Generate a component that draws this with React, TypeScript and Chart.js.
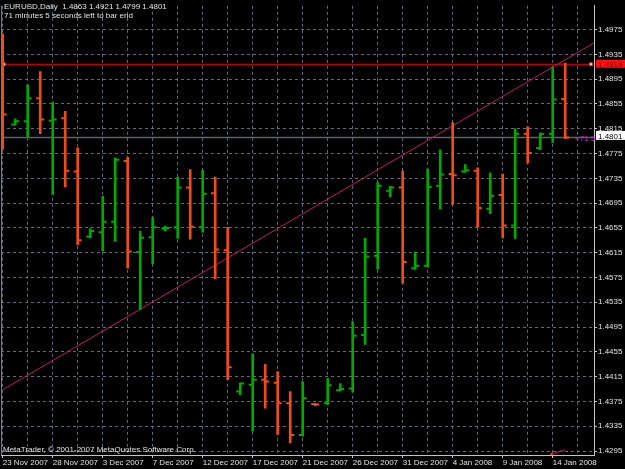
import React, { useEffect, useRef } from 'react';
import { Chart, registerables } from 'chart.js';

Chart.register(...registerables);

// ---------- data ----------
const symbol = 'EURUSD,Daily';
const countdownText = '71 minutes 5 seconds left to bar end';
const copyrightText = 'MetaTrader, \u00A9 2001-2007 MetaQuotes Software Corp.';
const timerText = '<71:5';

const opens = [
  1.4900, 1.4822, 1.4827, 1.4864, 1.4828, 1.4832, 1.4746, 1.4641, 1.4648, 1.4665,
  1.4763, 1.4616, 1.4640, 1.4654, 1.4656, 1.4720, 1.4656, 1.4711, 1.4619, 1.4391,
  1.4402, 1.4410, 1.4405, 1.4372, 1.4321, 1.4371, 1.4372, 1.4393, 1.4396, 1.4482,
  1.4610, 1.4715, 1.4720, 1.4590, 1.4594, 1.4723, 1.4742, 1.4746, 1.4747, 1.4686,
  1.4708, 1.4659, 1.4807, 1.4784, 1.4807, 1.4863,
];
const highs = [
  1.4968, 1.4831, 1.4886, 1.4907, 1.4858, 1.4843, 1.4784, 1.4654, 1.4706, 1.4768,
  1.4769, 1.4650, 1.4672, 1.4658, 1.4737, 1.4749, 1.4748, 1.4737, 1.4656, 1.4405,
  1.4452, 1.4435, 1.4423, 1.4391, 1.4407, 1.4372, 1.4412, 1.4404, 1.4504, 1.4638,
  1.4728, 1.4722, 1.4747, 1.4616, 1.4750, 1.4781, 1.4825, 1.4757, 1.4752, 1.4744,
  1.4742, 1.4815, 1.4818, 1.4808, 1.4914, 1.4921,
];
const lows = [
  1.4782, 1.4821, 1.4802, 1.4807, 1.4709, 1.4721, 1.4628, 1.4639, 1.4618, 1.4633,
  1.4590, 1.4523, 1.4597, 1.4650, 1.4638, 1.4637, 1.4648, 1.4573, 1.4410, 1.4386,
  1.4327, 1.4364, 1.4322, 1.4308, 1.4319, 1.4368, 1.4370, 1.4392, 1.4390, 1.4467,
  1.4589, 1.4705, 1.4566, 1.4588, 1.4592, 1.4685, 1.4693, 1.4745, 1.4656, 1.4678,
  1.4639, 1.4638, 1.4760, 1.4781, 1.4793, 1.4799,
];
const closes = [
  1.4838, 1.4827, 1.4864, 1.4830, 1.4830, 1.4747, 1.4635, 1.4650, 1.4665, 1.4765,
  1.4617, 1.4639, 1.4656, 1.4655, 1.4720, 1.4657, 1.4710, 1.4620, 1.4430, 1.4404,
  1.4410, 1.4407, 1.4372, 1.4321, 1.4380, 1.4370, 1.4401, 1.4395, 1.4481, 1.4609,
  1.4723, 1.4720, 1.4600, 1.4594, 1.4721, 1.4741, 1.4740, 1.4748, 1.4687, 1.4707,
  1.4659, 1.4807, 1.4776, 1.4807, 1.4862, 1.4801,
];

// date labels, one every 4 bars starting at bar 0
const dateLabels = [
  '23 Nov 2007', '28 Nov 2007', '3 Dec 2007', '7 Dec 2007', '12 Dec 2007', '17 Dec 2007',
  '21 Dec 2007', '26 Dec 2007', '31 Dec 2007', '4 Jan 2008', '9 Jan 2008', '14 Jan 2008',
];
const barsPerLabel = 4;
const barsPerGrid = 2;

const priceTicks = [
  1.4295, 1.4335, 1.4375, 1.4415, 1.4455, 1.4495, 1.4535, 1.4575, 1.4615,
  1.4655, 1.4695, 1.4735, 1.4775, 1.4815, 1.4855, 1.4895, 1.4935, 1.4975,
];

const hLineLevel = 1.4919;
const hLineBars = [0.1, 47.06];
const bidLevel = 1.4801;
const trendBars = [0, 47.3];
const trendPrices = [1.43937, 1.49535];
const markBars = [43.9, 45.0];
const markPrices = [1.4290, 1.4297];

// view window
const X_MIN = -0.136;
const X_MAX = 47.304;
const Y_MIN = 1.42886;
const Y_MAX = 1.50133;

// ---------- styles ----------
const UP = '#00a800';
const DOWN = '#f04c18';
const GRID = '#5d6b7a';
const AXIS = '#c4c4c4';
const TEXT = '#e2e2e2';
const FONT = '"Liberation Sans", Arial, sans-serif';

const mtPlugin = {
  id: 'mtDecor',
  beforeDraw(chart: any) {
    const { ctx } = chart;
    ctx.save();
    ctx.fillStyle = '#000000';
    ctx.fillRect(0, 0, chart.width, chart.height);
    ctx.restore();
  },
  beforeDatasetsDraw(chart: any) {
    const { ctx, chartArea } = chart;
    ctx.save();
    ctx.strokeStyle = '#7a7a7a';
    ctx.lineWidth = 1;
    ctx.beginPath();
    ctx.moveTo(chartArea.left + 0.5, chartArea.top);
    ctx.lineTo(chartArea.left + 0.5, chartArea.bottom);
    ctx.stroke();
    ctx.restore();
  },
  afterDraw(chart: any) {
    const { ctx, chartArea } = chart;
    const y = chart.scales.y;
    const n = opens.length - 1;
    ctx.save();
    ctx.font = `8px ${FONT}`;
    ctx.textAlign = 'left';
    ctx.textBaseline = 'alphabetic';
    ctx.fillStyle = TEXT;
    ctx.fillText(
      `${symbol}  ${opens[n].toFixed(4)} ${highs[n].toFixed(4)} ${lows[n].toFixed(4)} ${closes[n].toFixed(4)}`,
      4, 9,
    );
    ctx.fillText(countdownText, 4, 18);
    ctx.fillText(copyrightText, 3, chartArea.bottom - 3.5);

    const bidY = y.getPixelForValue(bidLevel);
    ctx.fillStyle = '#c21cd6';
    ctx.fillText(timerText, chartArea.right - 19, bidY + 3.5);
    ctx.fillStyle = '#ffffff';
    ctx.fillRect(chartArea.right + 2, bidY - 6.5, 29, 9);
    ctx.fillStyle = '#000000';
    ctx.fillText(bidLevel.toFixed(4), chartArea.right + 4, bidY + 1.3);

    const rY = y.getPixelForValue(hLineLevel);
    ctx.fillStyle = '#ff1010';
    ctx.fillRect(chartArea.right + 2, rY - 4.5, 29, 8);
    ctx.fillStyle = '#8a0000';
    ctx.fillText(hLineLevel.toFixed(4), chartArea.right + 4, rY + 3);
    ctx.restore();
  },
};

export default function App() {
  const ref = useRef<HTMLCanvasElement | null>(null);

  useEffect(() => {
    document.body.style.margin = '0';
    document.body.style.background = '#000';
    const canvas = ref.current;
    if (!canvas) return;

    const colors = opens.map((o, i) => (closes[i] >= o ? UP : DOWN));
    const gridBars: number[] = [];
    for (let v = 0; v <= opens.length; v += barsPerGrid) gridBars.push(v);

    const chart = new Chart(canvas, {
      type: 'bar',
      data: {
        datasets: [
          {
            type: 'bar',
            data: opens.map((_, i) => ({ x: i, y: [lows[i], highs[i]] })) as any,
            backgroundColor: colors,
            borderWidth: 0,
            barThickness: 2,
            order: 0,
          },
          {
            type: 'line',
            data: opens.map((o, i) => ({ x: i - 0.16, y: o })),
            showLine: false,
            pointStyle: 'line',
            pointRadius: 2,
            pointBorderWidth: 2,
            pointBorderColor: colors,
            pointBackgroundColor: colors,
            order: 0,
          },
          {
            type: 'line',
            data: closes.map((c, i) => ({ x: i + 0.16, y: c })),
            showLine: false,
            pointStyle: 'line',
            pointRadius: 2,
            pointBorderWidth: 2,
            pointBorderColor: colors,
            pointBackgroundColor: colors,
            order: 0,
          },
          {
            type: 'line',
            data: trendBars.map((b, i) => ({ x: b, y: trendPrices[i] })),
            borderColor: '#c8156e',
            borderWidth: 1,
            pointRadius: 0,
            order: 5,
          },
          {
            type: 'line',
            data: hLineBars.map((b) => ({ x: b, y: hLineLevel })),
            borderColor: '#ff0000',
            borderWidth: 1,
            pointStyle: 'rect',
            pointRadius: 2,
            pointBorderWidth: 1,
            pointBorderColor: '#ff2020',
            pointBackgroundColor: '#ffffff',
            order: 5,
          },
          {
            type: 'line',
            data: [X_MIN - 1, X_MAX + 1].map((b) => ({ x: b, y: bidLevel })),
            borderColor: '#5a636c',
            borderWidth: 1.5,
            pointRadius: 0,
            order: 6,
          },
          {
            type: 'line',
            data: markBars.map((b, i) => ({ x: b, y: markPrices[i] })),
            borderColor: '#c8156e',
            borderWidth: 1,
            pointRadius: [1, 0],
            pointBackgroundColor: '#ff2020',
            pointBorderColor: '#ff2020',
            order: 5,
          },
        ],
      },
      options: {
        animation: false,
        responsive: false,
        events: [],
        layout: { autoPadding: false, padding: { left: 1, top: 1, right: 0, bottom: 0 } },
        plugins: { legend: { display: false }, tooltip: { enabled: false }, title: { display: false } },
        font: { family: FONT, size: 8 },
        scales: {
          x: {
            type: 'linear',
            min: X_MIN,
            max: X_MAX,
            offset: false,
            afterBuildTicks: (s: any) => {
              s.ticks = gridBars.map((v) => ({ value: v }));
            },
            afterFit: (s: any) => {
              s.height = 14;
            },
            ticks: {
              autoSkip: false,
              maxRotation: 0,
              minRotation: 0,
              align: 'start',
              padding: 0,
              color: TEXT,
              font: { family: FONT, size: 8 },
              callback: (v: any) => (v % barsPerLabel === 0 ? dateLabels[v / barsPerLabel] ?? '' : ''),
            },
            grid: {
              offset: false,
              color: GRID,
              lineWidth: 1,
              tickLength: 3,
              tickColor: (c: any) => (c.tick && c.tick.value % barsPerLabel === 0 ? AXIS : 'rgba(0,0,0,0)'),
            },
            border: { color: AXIS, width: 1, dash: [3, 3] },
          },
          y: {
            type: 'linear',
            position: 'right',
            min: Y_MIN,
            max: Y_MAX,
            beginAtZero: false,
            afterBuildTicks: (s: any) => {
              s.ticks = priceTicks.map((v) => ({ value: v }));
            },
            afterFit: (s: any) => {
              s.width = 31;
            },
            ticks: {
              autoSkip: false,
              padding: 1,
              color: TEXT,
              font: { family: FONT, size: 8 },
              callback: (v: any) => Number(v).toFixed(4),
            },
            grid: { color: GRID, lineWidth: 1, tickLength: 3, tickColor: AXIS },
            border: { color: AXIS, width: 1, dash: [3, 3] },
          },
        },
      } as any,
      plugins: [mtPlugin],
    });

    return () => chart.destroy();
  }, []);

  return (
    <div style={{ width: 625, height: 469, background: '#000' }}>
      <canvas ref={ref} width={625} height={469} style={{ display: 'block' }} />
    </div>
  );
}
